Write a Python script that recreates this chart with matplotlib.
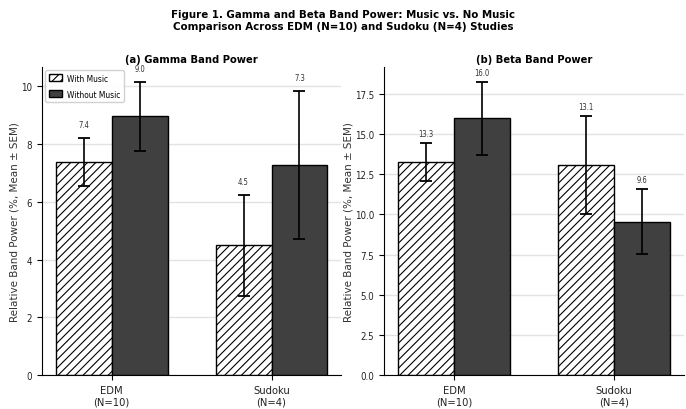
import numpy as np
import matplotlib
matplotlib.use('Agg')
import matplotlib.pyplot as plt

studies = ['EDM\n(N=10)', 'Sudoku\n(N=4)']

gamma_music = [7.38, 4.49]
gamma_music_sem = [0.84, 1.74]
gamma_nomusic = [8.96, 7.27]
gamma_nomusic_sem = [1.20, 2.57]

beta_music = [13.27, 13.09]
beta_music_sem = [1.19, 3.05]
beta_nomusic = [15.99, 9.56]
beta_nomusic_sem = [2.28, 2.01]

plt.rcParams['font.family'] = ['DejaVu Sans']
plt.rcParams['font.stretch'] = 'condensed'
plt.rcParams['hatch.linewidth'] = 0.8

fig = plt.figure(figsize=(6.86, 4.10), dpi=100)
ax1 = fig.add_axes([0.0612, 0.083, 0.436, 0.751])
ax2 = fig.add_axes([0.560, 0.083, 0.437, 0.751])

x = np.arange(len(studies))
w = 0.35


def draw_panel(ax, m1, s1, m2, s2, title):
    ax.bar(x - w / 2, m1, w, yerr=s1, color='white', edgecolor='black',
           hatch='////', linewidth=1.0, label='With Music',
           error_kw=dict(elinewidth=1.2, capsize=4, capthick=1.3, ecolor='black'))
    ax.bar(x + w / 2, m2, w, yerr=s2, color='#404040', edgecolor='black',
           linewidth=1.0, label='Without Music',
           error_kw=dict(elinewidth=1.2, capsize=4, capthick=1.3, ecolor='black'))
    for xs, m, s in [(x - w / 2, m1, s1), (x + w / 2, m2, s2)]:
        for xi, mi, si in zip(xs, m, s):
            ax.text(xi, mi + si + 0.3, f'{mi:.1f}', ha='center', va='bottom',
                    fontsize=5.5, color='#333333')
    ax.set_xticks(x)
    ax.set_xticklabels(studies, fontsize=8, color='#222222')
    ax.tick_params(axis='y', labelsize=7, labelcolor='#222222')
    ax.set_ylabel('Relative Band Power (%, Mean ± SEM)', fontsize=7.5,
                  fontstretch='normal', color='#333333', labelpad=1)
    ax.set_title(title, fontsize=8, fontweight='bold', pad=4)
    ax.grid(axis='y', color='#e3e3e3', linewidth=1.0)
    ax.set_axisbelow(True)
    ax.spines['top'].set_visible(False)
    ax.spines['right'].set_visible(False)


draw_panel(ax1, gamma_music, gamma_music_sem, gamma_nomusic, gamma_nomusic_sem,
           '(a) Gamma Band Power')
draw_panel(ax2, beta_music, beta_music_sem, beta_nomusic, beta_nomusic_sem,
           '(b) Beta Band Power')

ax1.legend(loc='upper left', fontsize=6, framealpha=0.9, borderaxespad=0.4,
           handlelength=1.6, handleheight=0.9, labelspacing=0.85, handletextpad=0.6)

fig.suptitle('Figure 1. Gamma and Beta Band Power: Music vs. No Music\n'
             'Comparison Across EDM (N=10) and Sudoku (N=4) Studies',
             fontsize=8.2, fontweight='bold', y=0.975)

fig.savefig('out.png', dpi=100)
